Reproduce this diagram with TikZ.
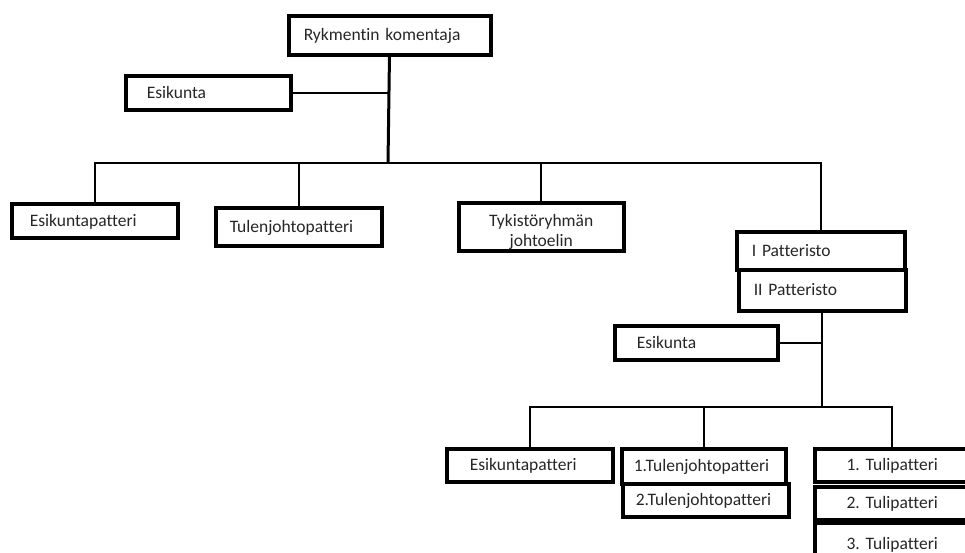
\documentclass[tikz,border=0pt]{standalone}
\usepackage{fontspec}
\setmainfont{Carlito}[Ligatures={NoCommon}]
\frenchspacing
\tikzset{
  unit/.style={draw, line width=3.5pt, anchor=north west, inner ysep=0pt, align=left,
    text=black!85, font=\fontsize{17.5}{20}\selectfont},
  one/.style={text height=14pt, text depth=3pt},
  link/.style={line width=2pt},
  trunk/.style={line width=3pt}
}
\begin{document}
\begin{tikzpicture}[x=1pt, y=-1pt]
\useasboundingbox (0,0) rectangle (965,552);
% rykmentti
\node[unit, one, minimum width=202pt, minimum height=39pt, text width=172pt, inner xsep=15pt] (rk) at (287,14) {Rykmentin komentaja};
\node[unit, one, minimum width=165pt, minimum height=34pt, text width=123pt, inner xsep=21pt] (esk1) at (124,74) {Esikunta};
\node[unit, one, minimum width=166pt, minimum height=34pt, text width=130pt, inner xsep=18pt] (ekp1) at (10,202) {Esikuntapatteri};
\node[unit, one, minimum width=166pt, minimum height=38pt, text width=138pt, inner xsep=14pt] (tjp) at (214,206) {Tulenjohtopatteri};
\node[unit, minimum width=165pt, minimum height=48pt, text width=145pt, inner xsep=10pt, align=center] (tyk) at (457,201) {\rule{0pt}{22pt}Tykistöryhmän\\johtoelin};
\node[unit, one, minimum width=168pt, minimum height=38pt, text width=138pt, inner xsep=15pt] (p1) at (735,230) {I Patteristo};
\node[unit, one, minimum width=167pt, minimum height=41pt, text width=137pt, inner xsep=15pt] (p2) at (737,268) {II Patteristo};
% patteristo
\node[unit, one, minimum width=163pt, minimum height=34pt, text width=119pt, inner xsep=22pt] (esk2) at (613,324) {Esikunta};
\node[unit, one, minimum width=166pt, minimum height=33pt, text width=120pt, inner xsep=23pt] (ekp2) at (445,447) {Esikuntapatteri};
\node[unit, one, minimum width=164pt, minimum height=35pt, text width=140pt, inner xsep=12pt] (tj1) at (620,447) {1.Tulenjohtopatteri};
\node[unit, one, minimum width=166pt, minimum height=33pt, text width=140pt, inner xsep=13pt] (tj2) at (621,482) {2.Tulenjohtopatteri};
\node[unit, one, minimum width=155pt, minimum height=33pt, text width=135pt, inner xsep=10pt, align=center] (tu1) at (813,447) {1. Tulipatteri};
\node[unit, one, minimum width=155pt, minimum height=33pt, text width=135pt, inner xsep=10pt, align=center] (tu2) at (813,485) {2. Tulipatteri};
\node[unit, one, minimum width=155pt, minimum height=42pt, text width=135pt, inner xsep=10pt, align=center] (tu3) at (813,521) {3. Tulipatteri};
% yhteydet
\coordinate (bus) at (388,163);
\coordinate (bus2) at (821,407);
\draw[trunk] (rk) -- (bus);
\draw[link] (esk1.east) -- (esk1.east -| bus);
\draw[link] (ekp1.north) |- (p1.north |- bus) -- (p1.north);
\draw[link] (tjp.north) -- (tjp.north |- bus);
\draw[link] (tyk.north) -- (tyk.north |- bus);
\draw[link] (p2.south) -- (p2.south |- bus2);
\draw[link] (esk2.east) -- (esk2.east -| p2.south);
\draw[link] (ekp2.north) |- (tu1.north |- bus2) -- (tu1.north);
\draw[link] (tj1.north) -- (tj1.north |- bus2);
\end{tikzpicture}
\end{document}
